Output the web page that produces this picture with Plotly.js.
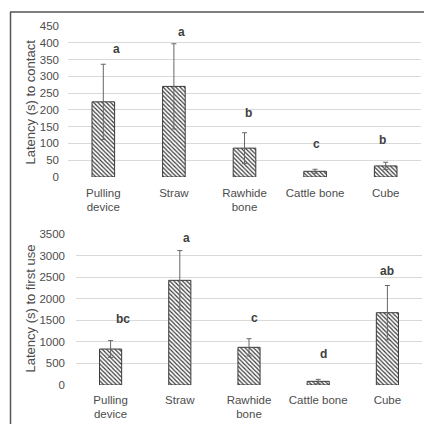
<!DOCTYPE html>
<html>
<head>
<meta charset="utf-8">
<script src="https://cdn.plot.ly/plotly-3.0.1.min.js"></script>
<style>html,body{margin:0;padding:0;background:#fff;}#chart{width:425px;height:424px;}</style>
</head>
<body>
<div id="chart"></div>
<script>
const categories = ["Pulling<br>device", "Straw", "Rawhide<br>bone", "Cattle bone", "Cube"];

const contactMean = [224, 270, 86, 17, 33];
const contactErr  = [112, 127, 46, 6, 11];
const contactLetters = ["a", "a", "b", "c", "b"];
const contactLetterY = [380, 433, 190, 98, 110];

const firstUseMean = [834, 2426, 873, 85, 1676];
const firstUseErr  = [195, 690, 200, 46, 630];
const firstUseLetters = ["bc", "a", "c", "d", "ab"];
const firstUseLetterY = [1537, 3400, 1553, 711, 2650];

const topLetterShift = [13, 8, 4, 1, -3];
const botLetterShift = [12, 7, 5, 5, 0];

const W = 425, H = 424;
const font = {family: "Liberation Sans, Arial, sans-serif", size: 11.5, color: "#4d4d4d"};

function barTrace(y, err, xa, ya) {
  return {
    type: "bar", x: categories, y: y, xaxis: xa, yaxis: ya, width: 0.32,
    marker: {color: "#ffffff", line: {color: "#3a3a3a", width: 1},
      pattern: {shape: "\\", fgcolor: "#3a3a3a", bgcolor: "#ffffff", size: 3, solidity: 0.4}},
    error_y: {type: "data", array: err, visible: true, color: "#666666", thickness: 1, width: 2.5},
    hoverinfo: "skip"
  };
}

const traces = [
  barTrace(contactMean, contactErr, "x", "y"),
  barTrace(firstUseMean, firstUseErr, "x2", "y2")
];

const annotations = [];
categories.forEach((c, i) => {
  annotations.push({xref: "x", yref: "y", x: c, y: contactLetterY[i], text: contactLetters[i],
    showarrow: false, xshift: topLetterShift[i], yanchor: "middle",
    font: {family: font.family, size: 12, color: "#404040", weight: "bold"}});
  annotations.push({xref: "x2", yref: "y2", x: c, y: firstUseLetterY[i], text: firstUseLetters[i],
    showarrow: false, xshift: botLetterShift[i], yanchor: "middle",
    font: {family: font.family, size: 12, color: "#404040", weight: "bold"}});
});
annotations.push({xref: "paper", yref: "paper", x: 30 / W, y: 1 - 102.5 / H, text: "Latency (s) to contact",
  textangle: -90, showarrow: false, xanchor: "center", yanchor: "middle",
  font: {family: font.family, size: 13, color: "#4d4d4d"}});
annotations.push({xref: "paper", yref: "paper", x: 30 / W, y: 1 - 308.5 / H, text: "Latency (s) to first use",
  textangle: -90, showarrow: false, xanchor: "center", yanchor: "middle",
  font: {family: font.family, size: 13, color: "#4d4d4d"}});

const yCommon = {showgrid: true, gridcolor: "#d9d9d9", gridwidth: 1, zeroline: false, showline: false,
  ticks: "", tickfont: font, automargin: false};
const xCommon = {showgrid: false, zeroline: false, showline: false, ticks: "", tickfont: font, automargin: false,
  tickangle: 0};

const layout = {
  width: W, height: H,
  margin: {l: 0, r: 0, t: 0, b: 0},
  paper_bgcolor: "#ffffff", plot_bgcolor: "rgba(0,0,0,0)",
  showlegend: false, font: font,
  xaxis: Object.assign({}, xCommon, {domain: [68 / W, 421 / W], anchor: "y", ticklabelstandoff: 7}),
  yaxis: Object.assign({}, yCommon, {domain: [1 - 177 / H, 1 - 26 / H], range: [0, 450], dtick: 50,
    anchor: "x", ticklabelstandoff: 8}),
  xaxis2: Object.assign({}, xCommon, {domain: [76 / W, 422 / W], anchor: "y2", ticklabelstandoff: 6}),
  yaxis2: Object.assign({}, yCommon, {domain: [1 - 385 / H, 1 - 234 / H], range: [0, 3500], dtick: 500,
    anchor: "x2", ticklabelstandoff: 10}),
  annotations: annotations,
  shapes: [
    {type: "line", xref: "paper", yref: "paper", x0: 10 / W, x1: 424 / W, y0: 1 - 12 / H, y1: 1 - 12 / H,
      line: {color: "#555555", width: 1.5}},
    {type: "line", xref: "paper", yref: "paper", x0: 10.5 / W, x1: 10.5 / W, y0: 1 - 12 / H, y1: 0,
      line: {color: "#555555", width: 1.5}}
  ]
};

Plotly.newPlot("chart", traces, layout, {displayModeBar: false, staticPlot: true});
</script>
</body>
</html>
